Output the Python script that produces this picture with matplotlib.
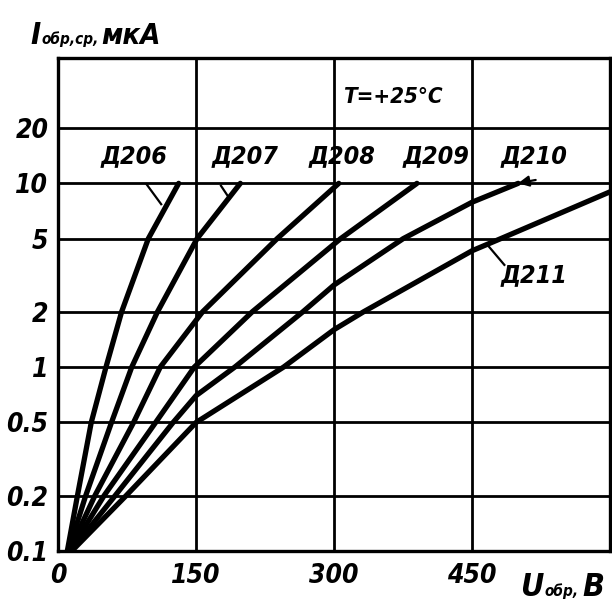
import matplotlib
matplotlib.use('Agg')
import matplotlib.pyplot as plt
from matplotlib.ticker import FixedLocator, FixedFormatter, NullLocator

# ---- data ----
x_ticks = [0, 150, 300, 450]
x_tick_labels = ['0', '150', '300', '450']
y_ticks = [0.1, 0.2, 0.5, 1, 2, 5, 10, 20]
y_tick_labels = ['0.1', '0.2', '0.5', '1', '2', '5', '10', '20']

names = ['Д206', 'Д207', 'Д208', 'Д209', 'Д210', 'Д211']

u_d206 = [10, 21, 36, 52, 69, 98, 131]
i_d206 = [0.1, 0.2, 0.5, 1, 2, 5, 10]

u_d207 = [11, 30, 58, 80, 108, 151, 198]
i_d207 = [0.1, 0.2, 0.5, 1, 2, 5, 10]

u_d208 = [12, 40, 82, 111, 157, 238, 305]
i_d208 = [0.1, 0.2, 0.5, 1, 2, 5, 10]

u_d209 = [13, 50, 106, 148, 211, 307, 390]
i_d209 = [0.1, 0.2, 0.5, 1, 2, 5, 10]

u_d210 = [14, 62, 125, 150, 192, 266, 300, 375, 450, 500]
i_d210 = [0.1, 0.2, 0.5, 0.7, 1, 2, 2.8, 5, 7.9, 10]

u_d211 = [15, 74, 150, 245, 300, 332, 450, 481, 600]
i_d211 = [0.1, 0.2, 0.5, 1, 1.6, 2, 4.3, 5, 9]

series_u = [u_d206, u_d207, u_d208, u_d209, u_d210, u_d211]
series_i = [i_d206, i_d207, i_d208, i_d209, i_d210, i_d211]

# ---- styling ----
FONT = ['DejaVu Sans']
plt.rcParams['font.family'] = FONT
plt.rcParams['font.stretch'] = 'condensed'
txt = dict(family=FONT, style='italic', stretch='condensed',
           weight='bold', color='black')

fig = plt.figure(figsize=(6.12, 6.06), dpi=100)
ax = fig.add_axes([0.095, 0.091, 0.902, 0.813])

ax.set_yscale('log')
ax.set_xlim(0, 600)
ax.set_ylim(0.1, 48)

for u, i in zip(series_u, series_i):
    ax.plot(u, i, color='black', lw=3.8, solid_capstyle='round',
            solid_joinstyle='round', zorder=3)

ax.xaxis.set_major_locator(FixedLocator(x_ticks))
ax.xaxis.set_major_formatter(FixedFormatter(x_tick_labels))
ax.yaxis.set_major_locator(FixedLocator(y_ticks))
ax.yaxis.set_major_formatter(FixedFormatter(y_tick_labels))
ax.yaxis.set_minor_locator(NullLocator())
ax.xaxis.set_minor_locator(NullLocator())

ax.grid(True, which='major', color='black', lw=2.0, zorder=1)
ax.tick_params(axis='y', length=0, pad=7)
ax.tick_params(axis='x', length=0, pad=9)
for lab in ax.get_xticklabels() + ax.get_yticklabels():
    lab.set_fontsize(19)
    lab.set_fontstyle('italic')
    lab.set_fontstretch('condensed')
    lab.set_fontweight('bold')
for sp in ax.spines.values():
    sp.set_linewidth(2.4)

# curve labels
LS = 18
ax.text(83, 14.0, 'Д206', fontsize=LS, ha='center', va='center', **txt)
ax.text(203, 14.0, 'Д207', fontsize=LS, ha='center', va='center', **txt)
ax.text(309, 14.0, 'Д208', fontsize=LS, ha='center', va='center', **txt)
ax.text(411, 14.0, 'Д209', fontsize=LS, ha='center', va='center', **txt)
ax.text(517, 14.0, 'Д210', fontsize=LS, ha='center', va='center', **txt)
ax.text(517, 3.15, 'Д211', fontsize=LS, ha='center', va='center', **txt)
ax.text(364, 29.5, 'T=+25°C', fontsize=16, ha='center', va='center', **txt)

# leader lines
ax.plot([96, 112], [9.9, 7.7], color='black', lw=1.6, zorder=3)
ax.plot([177, 186], [9.7, 8.3], color='black', lw=1.6, zorder=3)
ax.plot([467, 485], [4.6, 3.6], color='black', lw=1.6, zorder=3)
ax.annotate('', xy=(497, 9.95), xytext=(522, 10.5),
            arrowprops=dict(arrowstyle='-|>', color='black', lw=1.6,
                            mutation_scale=16))

# axis titles
fig.text(0.050, 0.927, 'I', fontsize=22, ha='left', va='baseline', **txt)
fig.text(0.068, 0.927, 'обр,ср,', fontsize=11, ha='left', va='baseline', **txt)
fig.text(0.166, 0.927, 'мкА', fontsize=21, ha='left', va='baseline', **txt)

fig.text(0.850, 0.016, 'U', fontsize=23, ha='left', va='baseline', **txt)
fig.text(0.890, 0.016, 'обр,', fontsize=11, ha='left', va='baseline', **txt)
fig.text(0.952, 0.016, 'В', fontsize=23, ha='left', va='baseline', **txt)

fig.savefig('out.png', dpi=100)
